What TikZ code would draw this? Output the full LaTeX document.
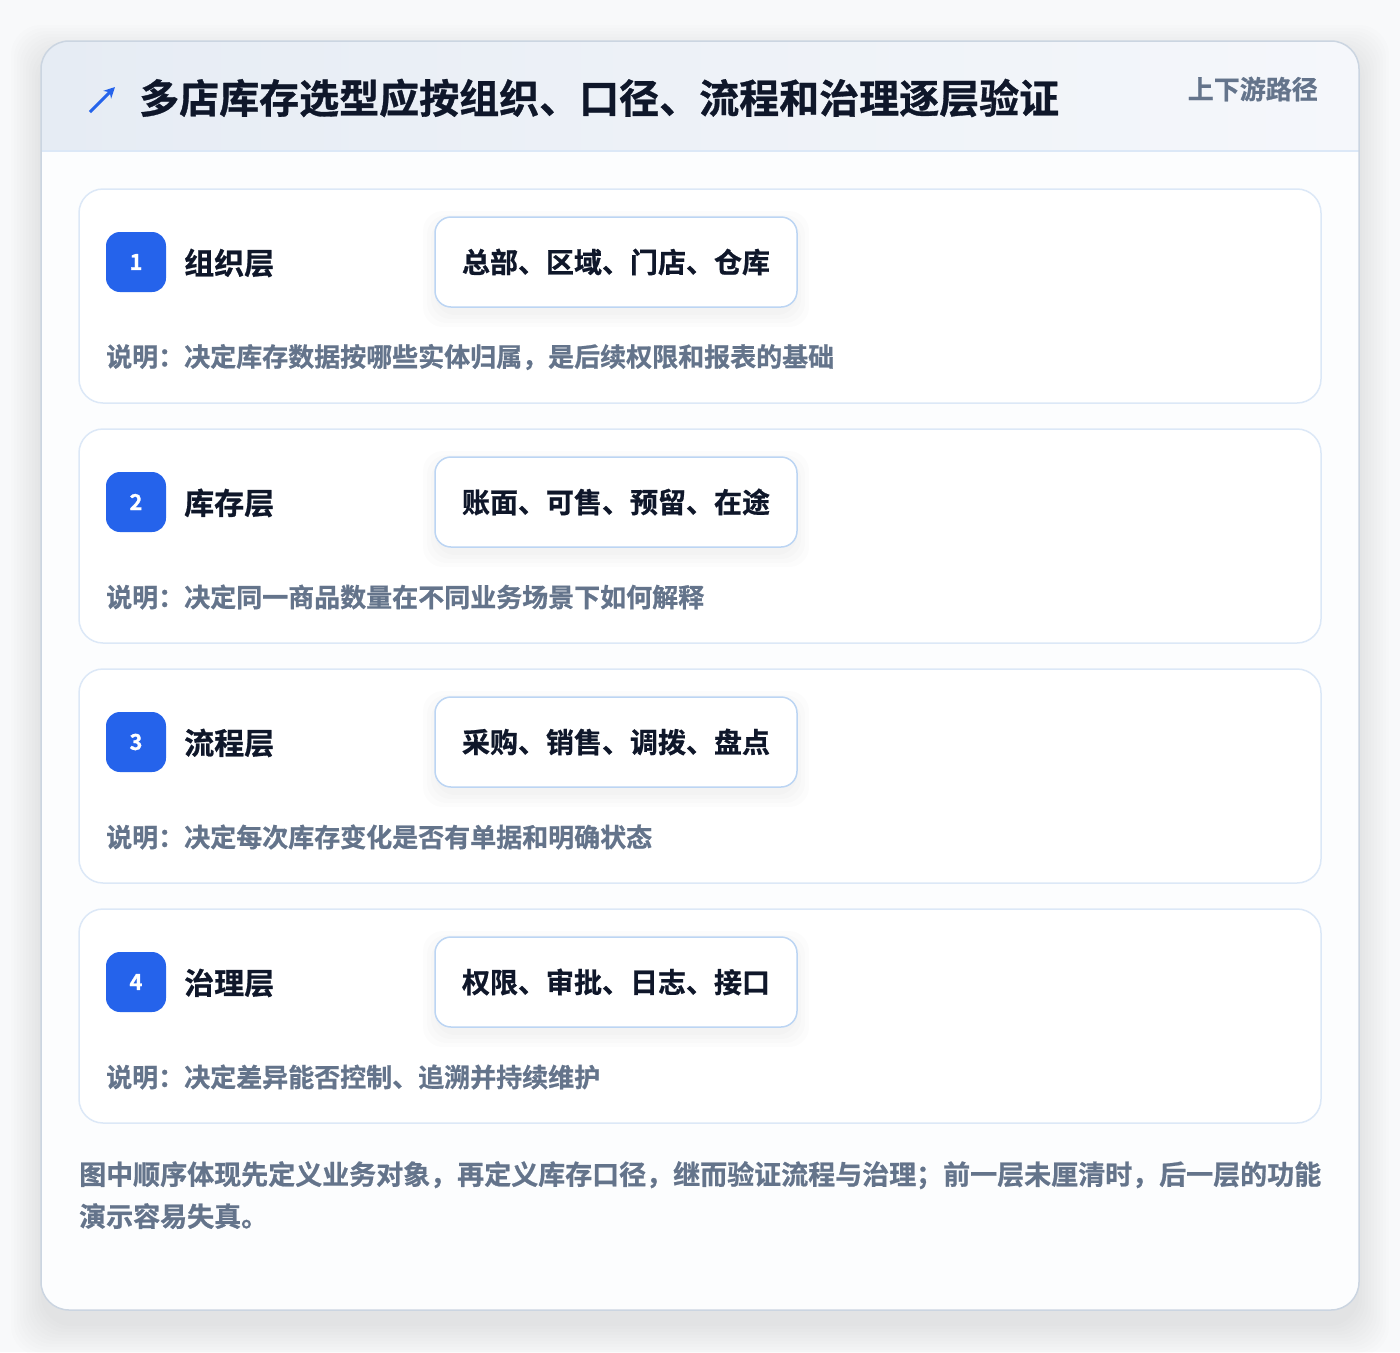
\documentclass[tikz,border=0pt]{standalone}
\usepackage{fontspec}
\newfontfamily\cjk{Noto Sans CJK SC}[BoldFont={* Bold}, BoldFeatures={FakeBold=0.8}]
\usetikzlibrary{arrows.meta}

\definecolor{ink}{HTML}{0F172A}
\definecolor{muted}{HTML}{64748B}
\definecolor{brand}{HTML}{2563EB}
\definecolor{cardline}{HTML}{DCE8F7}
\definecolor{tagline}{HTML}{BCD5F3}
\definecolor{frameline}{HTML}{CBD5E1}
\definecolor{headleft}{HTML}{E6ECF4}
\definecolor{headright}{HTML}{F5F7FB}
\definecolor{pagebg}{HTML}{F8F9FA}
\definecolor{bodyfill}{HTML}{FCFDFE}

\tikzset{
  card/.style={draw=cardline, fill=white, line width=1.5pt, rounded corners=24pt},
  badge/.style={fill=brand, text=white, rounded corners=14pt, minimum size=60pt,
    inner sep=0pt, font=\cjk\bfseries\fontsize{22}{26}\selectfont},
  layername/.style={anchor=west, inner sep=0pt, text=ink,
    font=\cjk\bfseries\fontsize{30}{36}\selectfont},
  tagbox/.style={draw=tagline, fill=white, line width=1.5pt, rounded corners=16pt,
    minimum width=362pt, minimum height=90pt, text=ink,
    font=\cjk\bfseries\fontsize{28}{34}\selectfont},
  tagshade/.style={fill=black, opacity=0.012, rounded corners=20pt},
  desc/.style={anchor=west, inner sep=0pt, text=muted,
    font=\cjk\bfseries\fontsize{26}{32}\selectfont}
}

\begin{document}
\begin{tikzpicture}[x=1pt,y=-1pt]
  \useasboundingbox (0,0) rectangle (1400,1352);
  \fill [pagebg] (0,0) rectangle (1400,1352);

  % frame with its soft shadow
  \foreach \s in {0,3,...,30}
    \fill [black, opacity=0.006, rounded corners=30pt] (41-\s,55-\s) rectangle (1359+\s,1326+\s);
  \fill [bodyfill, rounded corners=28pt] (41,41) rectangle (1359,1310);
  \begin{scope}
    \clip [rounded corners=28pt] (41,41) rectangle (1359,1310);
    \shade [left color=headleft, right color=headright] (41,41) rectangle (1359,151);
  \end{scope}
  \draw [cardline, line width=1.5pt] (41,151) -- (1359,151);
  \draw [frameline, line width=1.5pt, rounded corners=28pt] (41,41) rectangle (1359,1310);

  % header
  \draw [brand, line width=3pt, -{Stealth[length=11pt,width=11pt]}] (90,112) -- (115,87);
  \node [anchor=west, inner sep=0pt, text=ink, font=\cjk\bfseries\fontsize{40}{48}\selectfont]
    (title) at (139,98) {多店库存选型应按组织、口径、流程和治理逐层验证};
  \node [anchor=east, inner sep=0pt, text=muted, font=\cjk\bfseries\fontsize{26}{32}\selectfont]
    (path) at (1318,89) {上下游路径};

  % layer 1
  \draw [card] (79,189) rectangle (1321,403);
  \foreach \s in {0,4,...,12}
    \fill [tagshade] (435-\s,223-\s) rectangle (797+\s,315+\s);
  \node [badge] (badge1) at (136,262) {1};
  \node [layername] (layer1) at (184,263) {组织层};
  \node [tagbox] (tag1) at (616,262) {总部、区域、门店、仓库};
  \node [desc] (desc1) at (106,357) {说明：决定库存数据按哪些实体归属，是后续权限和报表的基础};

  % layer 2
  \draw [card] (79,429) rectangle (1321,643);
  \foreach \s in {0,4,...,12}
    \fill [tagshade] (435-\s,463-\s) rectangle (797+\s,555+\s);
  \node [badge] (badge2) at (136,502) {2};
  \node [layername] (layer2) at (184,503) {库存层};
  \node [tagbox] (tag2) at (616,502) {账面、可售、预留、在途};
  \node [desc] (desc2) at (106,597) {说明：决定同一商品数量在不同业务场景下如何解释};

  % layer 3
  \draw [card] (79,669) rectangle (1321,883);
  \foreach \s in {0,4,...,12}
    \fill [tagshade] (435-\s,703-\s) rectangle (797+\s,795+\s);
  \node [badge] (badge3) at (136,742) {3};
  \node [layername] (layer3) at (184,743) {流程层};
  \node [tagbox] (tag3) at (616,742) {采购、销售、调拨、盘点};
  \node [desc] (desc3) at (106,837) {说明：决定每次库存变化是否有单据和明确状态};

  % layer 4
  \draw [card] (79,909) rectangle (1321,1123);
  \foreach \s in {0,4,...,12}
    \fill [tagshade] (435-\s,943-\s) rectangle (797+\s,1035+\s);
  \node [badge] (badge4) at (136,982) {4};
  \node [layername] (layer4) at (184,983) {治理层};
  \node [tagbox] (tag4) at (616,982) {权限、审批、日志、接口};
  \node [desc] (desc4) at (106,1077) {说明：决定差异能否控制、追溯并持续维护};

  % closing note
  \node [anchor=north west, inner sep=0pt, align=left, text=muted,
    font=\cjk\bfseries\fontsize{27}{42}\selectfont] (note) at (79,1161)
    {图中顺序体现先定义业务对象，再定义库存口径，继而验证流程与治理；前一层未厘清时，后一层的功能\\演示容易失真。};
\end{tikzpicture}
\end{document}
